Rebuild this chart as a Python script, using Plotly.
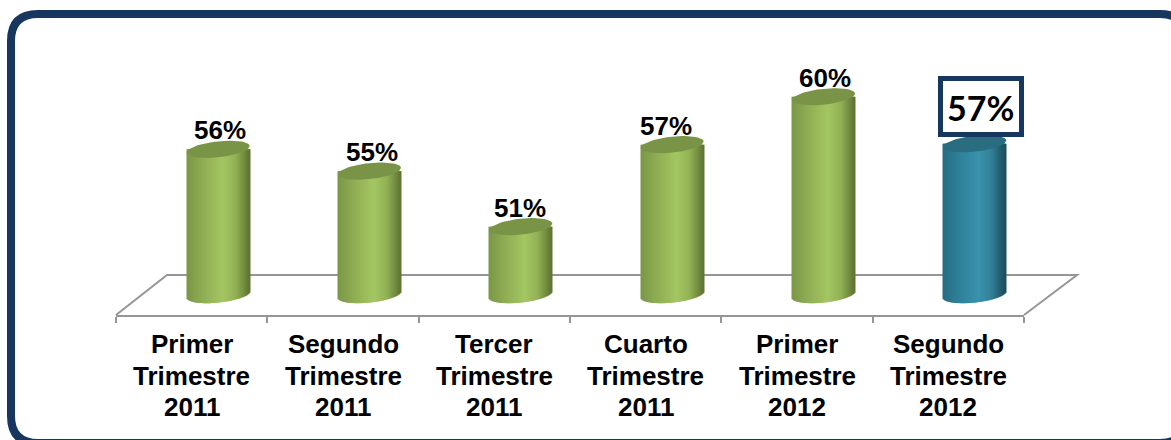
import math
import plotly.graph_objects as go

# ---- data ----
categories = ["Primer<br>Trimestre<br>2011", "Segundo<br>Trimestre<br>2011", "Tercer<br>Trimestre<br>2011",
              "Cuarto<br>Trimestre<br>2011", "Primer<br>Trimestre<br>2012", "Segundo<br>Trimestre<br>2012"]
values = [56.36, 54.85, 51.0, 56.68, 60.0, 56.75]
labels = ["56%", "55%", "51%", "57%", "60%", "57%"]
base_value = 46.3
y_range = [36.23, 66.7]

# ---- styling ----
W, H = 1171, 440
PX_PER_UNIT = H / (y_range[1] - y_range[0])
NAVY = "#17375E"
GREY = "#969696"
FONT = "Liberation Sans"
GREEN = dict(cap="#7a9447", stops=[(-1, (122, 150, 70)), (-0.55, (140, 170, 82)), (0.15, (163, 198, 98)),
                                   (0.55, (146, 178, 86)), (0.85, (112, 138, 62)), (1, (92, 115, 52))])
TEAL = dict(cap="#2a6c80", stops=[(-1, (38, 108, 130)), (-0.55, (46, 126, 150)), (0.15, (58, 146, 172)),
                                  (0.55, (50, 128, 152)), (0.85, (34, 92, 110)), (1, (28, 78, 94))])
palette = [GREEN] * 5 + [TEAL]
RX_PX, RY_PX, SHEAR_PX = 31.5, 8.0, 3.2
BACK_SHIFT_PX = 26.5
SLOT_PX = (1024 - 116) / 6
RX = RX_PX / SLOT_PX
N = 63
label_xshift = [2, 2, -1, -6, 1, 0]


def col(style, t):
    s = style["stops"]
    for (a, ca), (b, cb) in zip(s, s[1:]):
        if a <= t <= b:
            f = (t - a) / (b - a)
            c = [round(x + (y - x) * f) for x, y in zip(ca, cb)]
            return f"rgb({c[0]},{c[1]},{c[2]})"
    return f"rgb{s[-1][1]}"


def px(x):
    return x / W


def py(y):
    return 1 - y / H


fig = go.Figure()

# category axis trace (front plane of the floor)
fig.add_trace(go.Scatter(x=categories, y=values, mode="markers", opacity=0, xaxis="x", yaxis="y", hoverinfo="skip"))

# cylinder bodies, one trace per vertical strip
idx = list(range(len(values)))
dx = 2 * RX / N
for j in range(N):
    t = -1 + (j + 0.5) * 2 / N
    drop = (SHEAR_PX * t - RY_PX * math.sqrt(1 - t * t)) / PX_PER_UNIT
    b = base_value + drop
    fig.add_trace(go.Bar(
        x=idx, y=[v - b for v in values], base=[b] * len(values),
        width=dx, offset=-RX + j * dx,
        marker=dict(color=[col(p, t) for p in palette], line_width=0),
        xaxis="x2", yaxis="y2", cliponaxis=False, hoverinfo="skip"))

# cylinder caps
for i, v in zip(idx, values):
    th = [k * 2 * math.pi / 60 for k in range(61)]
    fig.add_trace(go.Scatter(
        x=[i + RX * math.cos(a) for a in th],
        y=[v + (SHEAR_PX * math.cos(a) + RY_PX * math.sin(a)) / PX_PER_UNIT for a in th],
        mode="lines", fill="toself", fillcolor=palette[i]["cap"], line=dict(width=0),
        xaxis="x2", yaxis="y2", cliponaxis=False, hoverinfo="skip"))

annotations = []
# value labels
for i, (v, lab) in enumerate(zip(values, labels)):
    if i == len(values) - 1:
        # empty box first, then the text on top so it can be placed on its own
        annotations.append(dict(
            x=i, y=v, xref="x2", yref="y2", text=" ", showarrow=False,
            font=dict(family="Lato", size=34, color="#000"), bgcolor="#fff", bordercolor=NAVY,
            borderwidth=5, borderpad=0, width=76, height=51, yanchor="bottom", yshift=7, xshift=6))
        annotations.append(dict(
            x=i, y=v, xref="x2", yref="y2", text=f"<b>{lab}</b>", showarrow=False,
            font=dict(family="Lato", size=34, color="#000"), borderpad=0,
            yanchor="bottom", yshift=15, xshift=6))
    else:
        annotations.append(dict(
            x=i, y=v, xref="x2", yref="y2", text=f"<b>{lab}</b>", showarrow=False,
            font=dict(family=FONT, size=26, color="#000"), yanchor="bottom", yshift=3,
            xshift=label_xshift[i], borderpad=0))
# category labels, one line at a time for the tight line spacing
baselines = [353, 385, 416]
for c in categories:
    for line, bl in zip(c.split("<br>"), baselines):
        annotations.append(dict(
            x=c, y=py(bl), xref="x", yref="paper", text=f"<b>{line}</b>", showarrow=False,
            font=dict(family=FONT, size=26, color="#000"), yanchor="bottom", yshift=-7, borderpad=0))

# rounded frame, runs past the right and bottom edges of the picture
L, T, R, B, r = 11, 14, 1187, 443, 27
frame = (f"M {px(L)} {py(T + r)} Q {px(L)} {py(T)} {px(L + r)} {py(T)} L {px(R - r)} {py(T)} "
         f"Q {px(R)} {py(T)} {px(R)} {py(T + r)} L {px(R)} {py(B - r)} Q {px(R)} {py(B)} {px(R - r)} {py(B)} "
         f"L {px(L + r)} {py(B)} Q {px(L)} {py(B)} {px(L)} {py(B - r)} Z")
floor = f"M {px(116)} {py(315)} L {px(167)} {py(275)} L {px(1077)} {py(275)} L {px(1024)} {py(315)}"
shapes = [
    dict(type="path", path=frame, xref="paper", yref="paper", line=dict(color=NAVY, width=8), layer="below"),
    dict(type="path", path=floor, xref="paper", yref="paper", line=dict(color=GREY, width=2), layer="below"),
]

fig.update_layout(
    width=W, height=H, margin=dict(l=0, r=0, t=0, b=0), showlegend=False, barmode="overlay",
    paper_bgcolor="#fff", plot_bgcolor="rgba(0,0,0,0)", shapes=shapes, annotations=annotations,
    xaxis=dict(type="category", categoryorder="array", categoryarray=categories, domain=[px(116), px(1024)],
               range=[-0.5, 5.5], tickson="boundaries", ticks="outside", ticklen=6, tickwidth=2, tickcolor=GREY,
               showline=True, linecolor=GREY, linewidth=2, showgrid=False, zeroline=False,
               showticklabels=False, anchor="y"),
    yaxis=dict(domain=[py(315), 1], visible=False, range=[0, 1], anchor="x"),
    xaxis2=dict(domain=[px(116 + BACK_SHIFT_PX), px(1024 + BACK_SHIFT_PX)], range=[-0.5, 5.5], visible=False, anchor="y2"),
    yaxis2=dict(domain=[0, 1], range=y_range, visible=False, anchor="x2"),
)

fig.write_html("out.html", config=dict(displayModeBar=False),
               post_script="document.body.style.margin='0';document.body.style.overflow='hidden';")
